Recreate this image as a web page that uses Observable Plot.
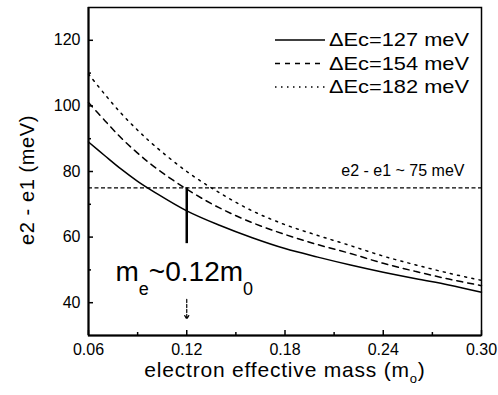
<!DOCTYPE html>
<html><head><meta charset="utf-8">
<script src="https://cdn.jsdelivr.net/npm/d3@7"></script>
<script src="https://cdn.jsdelivr.net/npm/@observablehq/plot@0.6"></script>
<style>
body{margin:0;background:#fff;}
svg{font-family:"Liberation Sans",Arial,sans-serif;}
</style></head><body><div id="chart"></div>
<script>
// ---- data ----
const mass = [0.06,0.07,0.08,0.09,0.10,0.12,0.14,0.16,0.18,0.20,0.22,0.24,0.26,0.28,0.30];
const e127 = [89.0,84.8,80.7,77.0,73.8,68.0,63.6,59.8,56.5,53.9,51.5,49.3,47.3,45.4,43.2];
const e154 = [101.0,95.5,90.2,85.6,81.5,74.6,68.9,64.4,60.8,57.7,55.0,52.0,49.5,47.2,45.2];
const e182 = [109.7,103.5,97.7,92.6,88.0,80.0,73.5,68.0,63.8,60.5,57.4,54.2,51.5,49.0,46.8];
const seriesLabels = ["\u0394Ec=127 meV","\u0394Ec=154 meV","\u0394Ec=182 meV"];
const xTicks = [0.06,0.12,0.18,0.24,0.30];
const xMinor = [0.09,0.15,0.21,0.27];
const yTicks = [40,60,80,100,120];
const yMinor = [50,70,90,110];
const refLevel = 75;
const refLabel = "e2 - e1 ~ 75 meV";
const refLabelX = 0.252;
const markMass = 0.12;
const markLineBottom = 58;
const arrowTop = 41, arrowBottom = 35;
const annotX = 0.0765, annotY = 49.5;
const xLabel = "electron effective mass (m";
const yLabel = "e2 - e1 (meV)";

// ---- styles ----
const seriesDash = [undefined, "6,5", "2,5.3"];
const legendDash = [undefined, "5,5", "1.5,4.5"];

const series = [e127, e154, e182];
const rows = series.flatMap((vals, i) => vals.map((v, j) => ({m: mass[j], e: v, s: i})));

const plot = Plot.plot({
  width: 498, height: 395,
  marginLeft: 88, marginRight: 17, marginTop: 7, marginBottom: 60,
  x: {domain: [0.06, 0.30]},
  y: {domain: [30, 130]},
  style: {fontFamily: '"Liberation Sans", Arial, sans-serif', fontSize: "16px", color: "#000", background: "#fff"},
  marks: [
    ...series.map((vals, i) => Plot.line(rows.filter(r => r.s === i), {
      x: "m", y: "e", stroke: "#000", strokeWidth: 1.5,
      strokeDasharray: seriesDash[i], curve: "catmull-rom"
    })),
    Plot.ruleY([refLevel], {stroke: "#000", strokeWidth: 1.2, strokeDasharray: "4,2.5"}),
    Plot.text([refLabel], {x: refLabelX, y: refLevel, dy: -17, text: d => d, fontSize: 16, fill: "#000"}),
    Plot.ruleX([markMass], {y1: refLevel, y2: markLineBottom, stroke: "#000", strokeWidth: 2.5}),
    Plot.arrow([markMass], {x1: d => d, x2: d => d, y1: arrowTop, y2: arrowBottom, stroke: "#000",
      strokeWidth: 1.2, strokeDasharray: "3,2", headLength: 5}),
    Plot.text(["m"], {x: annotX, y: annotY, text: d => d, fontSize: 28, textAnchor: "start", fill: "#000", className: "annot"}),
    Plot.text([yLabel], {frameAnchor: "left", text: d => d, fontSize: 20, fill: "#000", className: "ylab"}),
    Plot.text([xLabel], {frameAnchor: "bottom", dy: 41, text: d => d, fontSize: 21, fill: "#000", className: "xlab"}),
    Plot.axisX({ticks: xTicks, tickSize: 0, tickPadding: 8, tickFormat: ".2f", label: null}),
    Plot.axisX({ticks: xTicks, tickSize: -5, tickFormat: () => "", label: null, strokeWidth: 1.5}),
    Plot.axisX({ticks: xMinor, tickSize: -3, tickFormat: () => "", label: null, strokeWidth: 1.5}),
    Plot.axisY({ticks: yTicks, tickSize: 0, tickPadding: 8, label: null}),
    Plot.axisY({ticks: yTicks, tickSize: -5, tickFormat: () => "", label: null, strokeWidth: 1.5}),
    Plot.axisY({ticks: yMinor, tickSize: -3, tickFormat: () => "", label: null, strokeWidth: 1.5}),
    Plot.frame({stroke: "#000", strokeWidth: 1.5}),
    Plot.ruleX([0.06], {stroke: "#000", strokeWidth: 2}),
    Plot.ruleY([30], {stroke: "#000", strokeWidth: 2})
  ]
});
document.getElementById("chart").appendChild(plot);

const svg = d3.select(plot);
// drop the empty labels of the tick-only axes
svg.selectAll("text").filter(function() { return this.textContent === ""; }).remove();

// rich text: subscripts
const annot = svg.select("g.annot text");
annot.text("m");
annot.append("tspan").attr("font-size", 18).attr("dy", 15).text("e");
annot.append("tspan").attr("dy", -15).text("~0.12m");
annot.append("tspan").attr("font-size", 18).attr("dy", 15).text("0");

const xl = svg.select("g.xlab text").attr("letter-spacing", "0.8px");
xl.append("tspan").attr("font-size", 13).attr("dy", 6).text("o");
xl.append("tspan").attr("dy", -6).text(")");

// y label: place rotated at left
svg.select("g.ylab").attr("transform", null);
svg.select("g.ylab text")
  .attr("x", null).attr("y", null).attr("dy", "0.35em")
  .attr("text-anchor", "middle")
  .attr("letter-spacing", "0.6px")
  .attr("transform", "translate(27,180) rotate(-90)");

// legend (inside the frame, top right)
const lg = svg.append("g").attr("class", "legend");
seriesLabels.forEach((lab, i) => {
  const y = 40 + i * 23.5;
  lg.append("line").attr("x1", 275).attr("x2", 325).attr("y1", y).attr("y2", y)
    .attr("stroke", "#000").attr("stroke-width", 1.5)
    .attr("stroke-dasharray", legendDash[i] || null);
  lg.append("text").attr("x", 329).attr("y", y).attr("dy", "0.35em")
    .attr("text-anchor", "start")
    .attr("font-size", 18.5).attr("fill", "#000")
    .attr("textLength", 140).attr("lengthAdjust", "spacingAndGlyphs")
    .text(lab);
});
</script></body></html>
